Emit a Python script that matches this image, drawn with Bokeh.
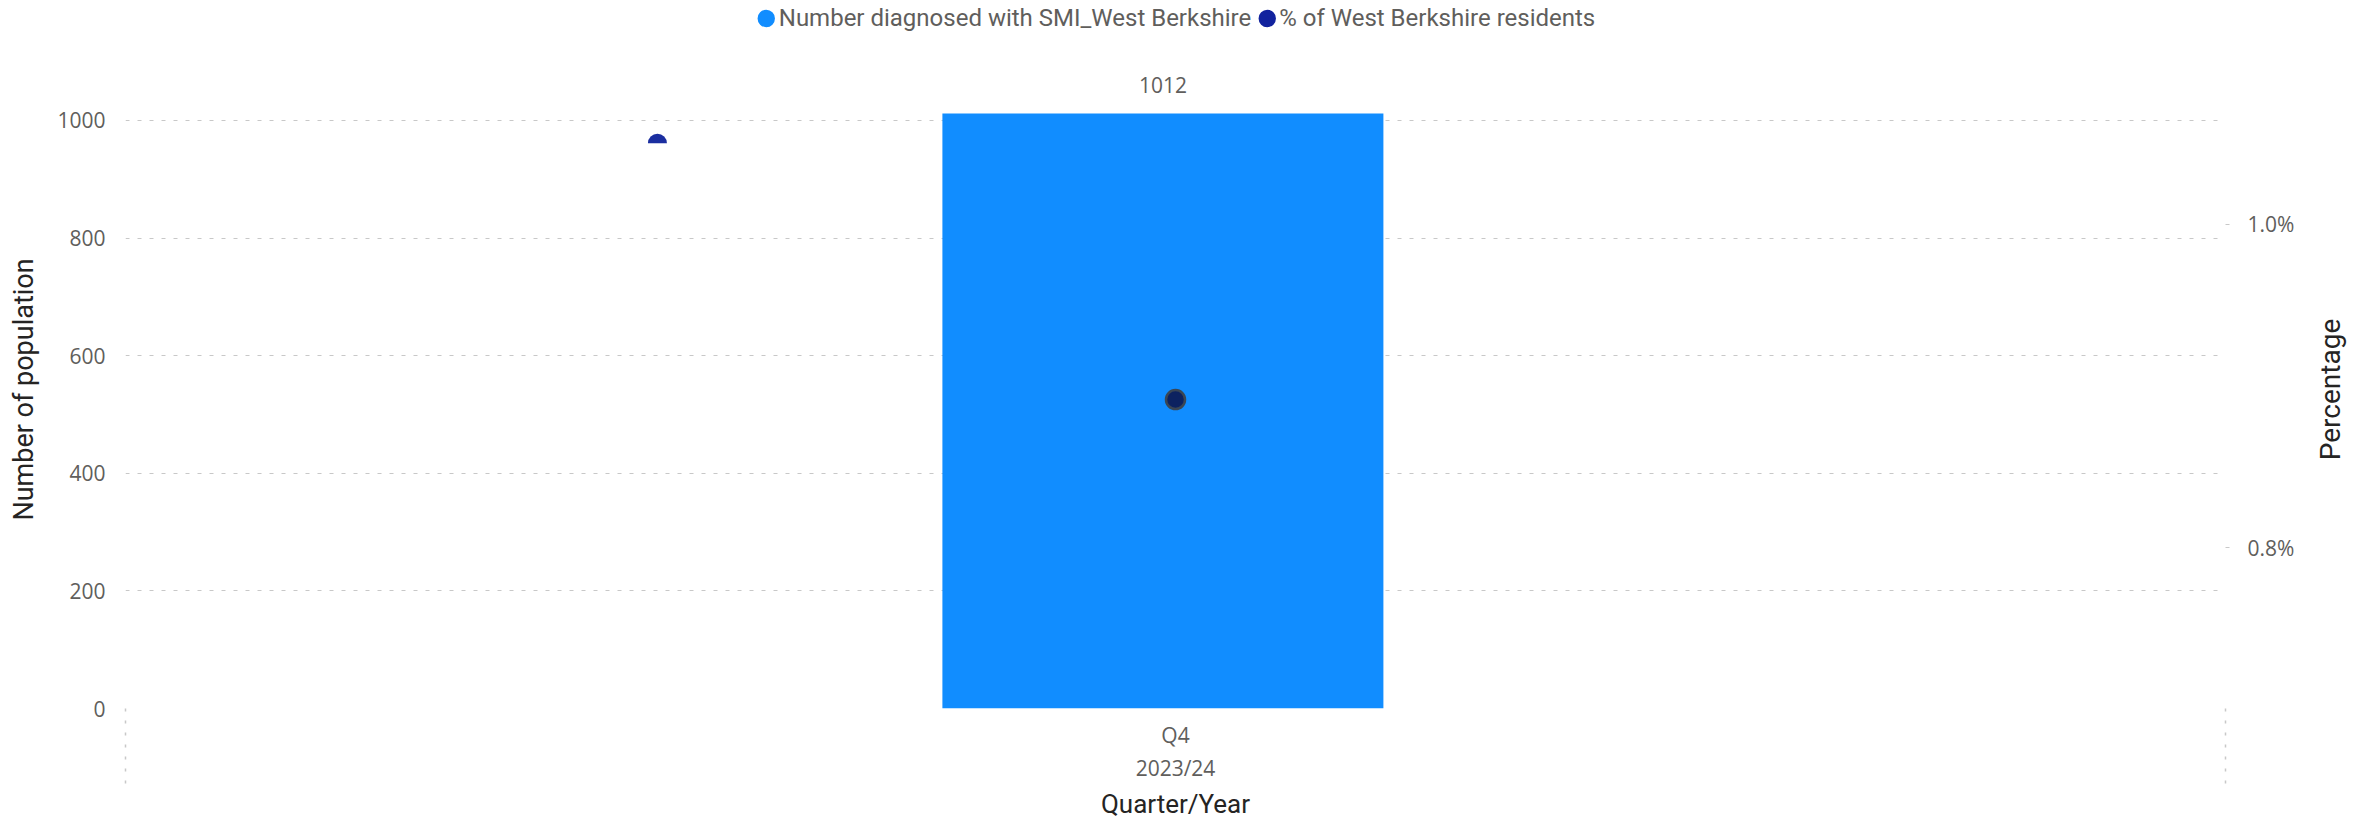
import math

from bokeh.core.properties import value
from bokeh.embed import file_html
from bokeh.layouts import column, row
from bokeh.models import (ColumnDataSource, FixedTicker, Grid, Legend, LegendItem,
                          LinearAxis, PrintfTickFormatter, Range1d, Title)
from bokeh.plotting import figure
from bokeh.resources import INLINE
from bokeh.transform import dodge

# ---- data -------------------------------------------------------------
years = ["2023/24"]
quarters = ["Q4"]
diagnosed = [1012]                 # Number diagnosed with SMI_West Berkshire
pct_residents = [0.8915]           # % of West Berkshire residents
pct_residents_prev = [1.05]        # earlier % marker, drawn left of the bar

y_ticks = [0, 200, 400, 600, 800, 1000]
pct_ticks = [0.8, 1.0]

# ---- styling ----------------------------------------------------------
BAR = "#118DFF"
NAVY = "#12239E"
GRID = "#C8C8C8"
TICK_TXT = "#605E5C"
TITLE_TXT = "#252423"
NUM_FONT = "Open Sans"
TITLE_FONT = "Roboto"

W = 2371
SIDE_W = 60                        # strip holding the right-hand axis title
LEGEND_H = 70                      # strip holding the legend
CHART_H = 753                      # chart below it
Y_END = 1085.0                     # left axis top (frame top sits above 1000)
P0, P1 = 0.7005, 1.0949            # matching extent of the percentage axis

# one equal-width slot per quarter along a 0..1 x scale
n = len(quarters)
centres = [(i + 0.5) / n for i in range(n)]
edges = [i / n for i in range(n + 1)]

src = ColumnDataSource(dict(
    x=centres,
    diagnosed=diagnosed,
    label=[str(v) for v in diagnosed],
    pct=pct_residents,
    pct_prev=pct_residents_prev,
))

p = figure(width=W - SIDE_W, height=CHART_H, x_range=Range1d(0, 1), y_range=Range1d(0, Y_END),
           output_backend="svg", toolbar_location=None, x_axis_location=None,
           y_axis_location=None, min_border_left=125, min_border_right=146 - SIDE_W,
           min_border_top=0, min_border_bottom=115, outline_line_color=None,
           background_fill_color="white", border_fill_color="white")
p.extra_y_ranges = {"pct": Range1d(P0, P1)}
p.xgrid.visible = False
p.ygrid.visible = False

p.add_layout(Grid(dimension=1, ticker=FixedTicker(ticks=y_ticks),
                  grid_line_color=GRID, grid_line_dash="4 8", grid_line_width=1.2))

# x axis: quarter/year labels at slot centres, dotted separators at slot edges
xaxis = LinearAxis(ticker=FixedTicker(ticks=centres, minor_ticks=edges),
                   major_label_overrides={c: f"{q}\n{y}" for c, q, y in zip(centres, quarters, years)},
                   axis_line_color=None, major_tick_line_color=None,
                   major_tick_out=0, major_tick_in=0,
                   minor_tick_line_color=GRID, minor_tick_line_dash="3 9",
                   minor_tick_line_width=1.5, minor_tick_out=75, minor_tick_in=0,
                   major_label_standoff=-63, major_label_text_font=NUM_FONT,
                   major_label_text_font_size="21px", major_label_text_color=TICK_TXT,
                   major_label_text_line_height=1.2,
                   axis_label="Quarter/Year", axis_label_text_font=TITLE_FONT,
                   axis_label_text_font_size="26px", axis_label_text_font_style="normal",
                   axis_label_text_color=TITLE_TXT, axis_label_standoff=4)
p.add_layout(xaxis, "below")

left = LinearAxis(ticker=FixedTicker(ticks=y_ticks), axis_label="Number of population",
                  axis_line_color=None, major_tick_line_color=None, major_tick_out=0,
                  major_tick_in=0, minor_tick_line_color=None, minor_tick_out=0,
                  major_label_standoff=20, major_label_text_font=NUM_FONT,
                  major_label_text_font_size="21px", major_label_text_color=TICK_TXT,
                  axis_label_text_font=TITLE_FONT, axis_label_text_font_size="27px",
                  axis_label_text_font_style="normal", axis_label_text_color=TITLE_TXT,
                  axis_label_standoff=14)
p.add_layout(left, "left")

right = LinearAxis(y_range_name="pct", ticker=FixedTicker(ticks=pct_ticks),
                   formatter=PrintfTickFormatter(format="%.1f%%"),
                   axis_line_color=None, major_tick_line_color=GRID, major_tick_out=4,
                   major_tick_in=0, minor_tick_line_color=None, minor_tick_out=0,
                   major_label_standoff=18, major_label_text_font=NUM_FONT,
                   major_label_text_font_size="21px", major_label_text_color=TICK_TXT)
p.add_layout(right, "right")

# bars and their value labels
bar_x = dodge("x", -0.006)
p.vbar(x=bar_x, top="diagnosed", width=0.21, source=src, fill_color=BAR, line_color=None)
p.text(x=bar_x, y="diagnosed", text="label", source=src, text_align="center",
       text_baseline="middle", y_offset=-28, text_font=value(NUM_FONT),
       text_font_size="21px", text_color=TICK_TXT)

# percentage markers
p.wedge(x=dodge("x", -0.2467), y="pct_prev", radius=9.5,
        radius_units="screen", start_angle=0, end_angle=math.pi, source=src,
        y_range_name="pct", fill_color="#1B2EA0", line_color=None)
p.scatter(x="x", y="pct", source=src, y_range_name="pct", size=19,
          fill_color="#0C2260", line_color="#3A4654", line_width=2.5)

# right-hand axis title, reading bottom-to-top, centred on the plot height
side = figure(width=SIDE_W, height=CHART_H, x_range=Range1d(0, 1), y_range=Range1d(0, 1),
              output_backend="svg", toolbar_location=None, x_axis_location=None,
              y_axis_location=None, min_border_left=0, min_border_right=0,
              min_border_top=0, min_border_bottom=115, outline_line_color=None,
              background_fill_color="white", border_fill_color="white")
side.xgrid.visible = False
side.ygrid.visible = False
side.add_layout(Title(text="Percentage", align="center", text_font=TITLE_FONT,
                      text_font_size="28px", text_font_style="normal",
                      text_color=TITLE_TXT, standoff=0, offset=0), "left")

# legend strip on top, with round swatches
lg = figure(width=W, height=LEGEND_H, x_range=Range1d(0, 1), y_range=Range1d(0, 1),
            output_backend="svg", toolbar_location=None, x_axis_location=None,
            y_axis_location=None, min_border_left=0, min_border_right=23,
            min_border_top=0, min_border_bottom=0, outline_line_color=None,
            background_fill_color="white", border_fill_color="white")
lg.xgrid.visible = False
lg.ygrid.visible = False
leg_bar = lg.scatter(x="x", y="diagnosed", source=src, size=0, fill_color=BAR,
                     line_color=BAR, line_width=7)
leg_pct = lg.scatter(x="x", y="pct", source=src, size=0, fill_color=NAVY,
                     line_color=NAVY, line_width=7)
legend = Legend(items=[LegendItem(label="Number diagnosed with SMI_West Berkshire", renderers=[leg_bar]),
                       LegendItem(label="% of West Berkshire residents", renderers=[leg_pct])],
                orientation="horizontal", location="top_center", glyph_width=26, glyph_height=26,
                label_standoff=0, spacing=2, padding=0, margin=0, border_line_color=None,
                background_fill_alpha=0, label_text_font=TITLE_FONT,
                label_text_font_size="24px", label_text_color=TICK_TXT, label_height=36)
lg.add_layout(legend)

page = column(lg, row(p, side, spacing=0), spacing=0)
open("out.html", "w").write(file_html(page, INLINE))
